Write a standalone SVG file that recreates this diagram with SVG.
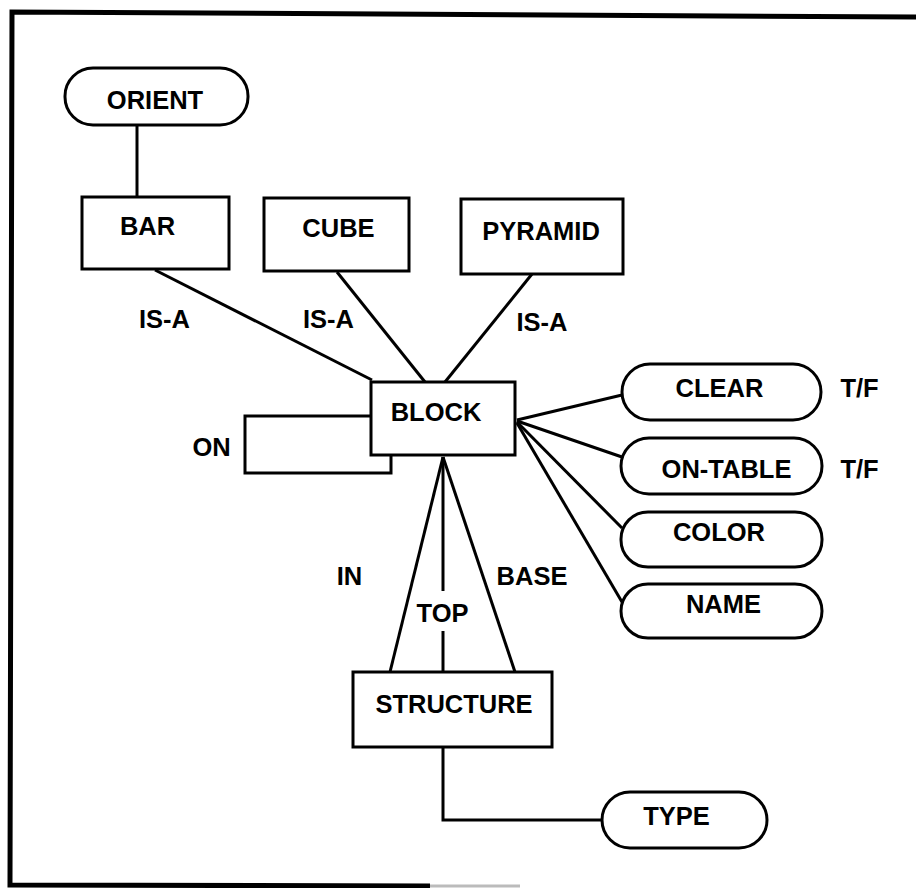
<svg xmlns="http://www.w3.org/2000/svg" width="916" height="888" viewBox="0 0 916 888">
<style>
.n{fill:#fff;stroke:#000;stroke-width:3}
.t{font-family:"Liberation Sans",Arial,sans-serif;font-weight:bold;font-size:25.5px;fill:#000;text-anchor:middle}
.c{fill:none;stroke:#000;stroke-width:3}
.f{fill:none;stroke:#000;stroke-width:5}
</style>
<rect width="916" height="888" fill="#fff"/>
<path class="f" d="M916 17 L12 12 L10 885 L430 886"/>
<line x1="430" y1="886" x2="520" y2="886" stroke="#bbb" stroke-width="3"/>
<g id="connectors">
<line class="c" x1="137" y1="125" x2="137" y2="197"/>
<line class="c" x1="155" y1="270" x2="372" y2="380"/>
<line class="c" x1="337" y1="272" x2="425" y2="382"/>
<line class="c" x1="532" y1="274" x2="445" y2="382"/>
<path class="c" d="M371 416 L245 416 L245 473 L391 473 L391 455"/>
<line class="c" x1="517" y1="420" x2="622" y2="395"/>
<line class="c" x1="517" y1="421" x2="622" y2="457"/>
<line class="c" x1="517" y1="422" x2="622" y2="528"/>
<line class="c" x1="517" y1="423" x2="622" y2="602"/>
<line class="c" x1="443" y1="457" x2="390" y2="672"/>
<line class="c" x1="443" y1="457" x2="443" y2="591"/>
<line class="c" x1="443" y1="631" x2="443" y2="672"/>
<line class="c" x1="443" y1="457" x2="515" y2="672"/>
<path class="c" d="M443 747 L443 820 L602 820"/>
<text class="t" x="164.5" y="328">IS-A</text>
<text class="t" x="328.5" y="328">IS-A</text>
<text class="t" x="542" y="331">IS-A</text>
<text class="t" x="211.5" y="456">ON</text>
<text class="t" x="349.5" y="585">IN</text>
<text class="t" x="442.5" y="622">TOP</text>
<text class="t" x="532" y="585">BASE</text>
<text class="t" x="859.5" y="397">T/F</text>
<text class="t" x="859.5" y="478">T/F</text>
</g>
<g id="orient"><rect class="n" x="65" y="68" width="183" height="57" rx="28"/><text class="t" x="155" y="109">ORIENT</text></g>
<g id="bar"><rect class="n" x="82" y="197" width="147" height="72"/><text class="t" x="147.5" y="235">BAR</text></g>
<g id="cube"><rect class="n" x="264" y="198" width="145" height="73"/><text class="t" x="338.5" y="237">CUBE</text></g>
<g id="pyramid"><rect class="n" x="461" y="199" width="162" height="75"/><text class="t" x="541" y="240">PYRAMID</text></g>
<g id="block"><rect class="n" x="371" y="382" width="144" height="73"/><text class="t" x="436" y="421">BLOCK</text></g>
<g id="clear"><rect class="n" x="622" y="364" width="199" height="56" rx="28"/><text class="t" x="719.5" y="397">CLEAR</text></g>
<g id="ontable"><rect class="n" x="621" y="438" width="201" height="56" rx="28"/><text class="t" x="726.5" y="478">ON-TABLE</text></g>
<g id="color"><rect class="n" x="621" y="512" width="201" height="55" rx="27"/><text class="t" x="719" y="541">COLOR</text></g>
<g id="name"><rect class="n" x="621" y="584" width="201" height="54" rx="27"/><text class="t" x="723.5" y="613">NAME</text></g>
<g id="structure"><rect class="n" x="353" y="672" width="199" height="75"/><text class="t" x="454" y="713">STRUCTURE</text></g>
<g id="type"><rect class="n" x="602" y="792" width="165" height="56" rx="28"/><text class="t" x="676.5" y="825">TYPE</text></g>
</svg>
